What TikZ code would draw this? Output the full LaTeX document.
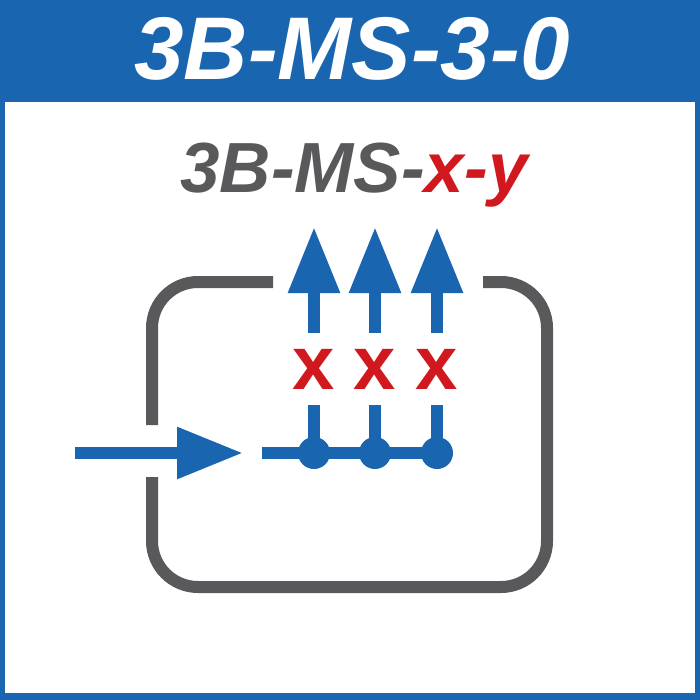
\documentclass[tikz,border=0pt]{standalone}
\usepackage{fontspec}
\setmainfont{Liberation Sans}
\usetikzlibrary{arrows.meta}
\usetikzlibrary{positioning}
\definecolor{frameblue}{HTML}{1A65B0}
\definecolor{loopgray}{HTML}{59585A}
\definecolor{markred}{HTML}{D0181E}
\tikzstyle{wire} = [draw=frameblue, line width=12pt]
\tikzstyle{flow} = [wire, -{Triangle[width=49pt,length=66pt]}]
\tikzstyle{feedback} = [draw=loopgray, line width=12pt, rounded corners=46pt]
\tikzstyle{junction} = [circle, fill=frameblue, minimum size=32pt, inner sep=0]
\tikzstyle{blocked} = [text=markred, font=\fontsize{76}{76}\selectfont\bfseries, inner sep=0, minimum height=72pt]

\begin{document}
\begin{tikzpicture}[x=1pt, y=-1pt]
            \useasboundingbox (0,0) rectangle (700,700);
            \fill[frameblue] (0,0) rectangle (700,700);
            \fill[white] (5,102) rectangle (695,693);

            \node (title) [anchor=base, text=white] at (352,80) {\fontsize{89}{89}\selectfont\bfseries\itshape 3B-MS-3-0};
            \node (scheme) [anchor=base, text=loopgray] at (354,193) {\fontsize{71}{71}\selectfont\bfseries\itshape 3B-MS-\textcolor{markred}{x-y}};

            % feedback loop
            \coordinate (gapL) at (273,282);
            \coordinate (gapR) at (483,282);
            \coordinate (inL) at (152,425);
            \coordinate (inR) at (152,477);
            \draw [feedback] (gapL) -- (152,282) -- (inL);
            \draw [feedback] (inR) -- (152,587) -- (547,587) -- (547,282) -- (gapR);

            % input
            \coordinate (src) at (75,453);
            \coordinate (dst) at (243,453);
            \coordinate (bus) at (262,453);
            \draw [flow] (src) -- (dst);

            \node (d1) [junction] at (314,453) {};
            \node (d2) [junction] at (375,453) {};
            \node (d3) [junction] at (437,453) {};
            \draw [wire] (bus) -- (d3.center);

            \foreach \i/\xx in {1/314,2/375,3/437} {
                \node (x\i) [blocked] at (\xx,369) {x};
                \coordinate (out\i) at (\xx,227);
                \draw [wire] (d\i.center) -- (x\i.south);
                \draw [flow] (x\i.north) -- (out\i);
            }
\end{tikzpicture}
\end{document}
